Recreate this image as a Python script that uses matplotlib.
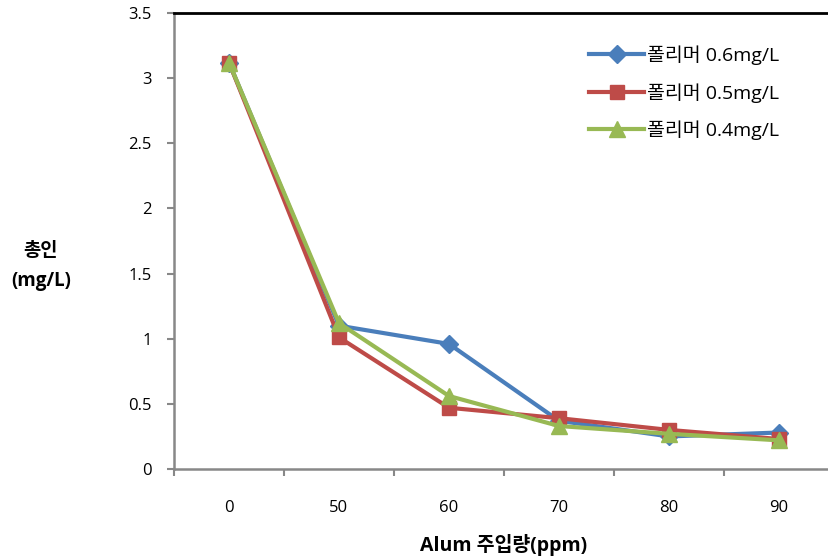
import numpy as np
import matplotlib
matplotlib.use("Agg")
import matplotlib.pyplot as plt

plt.rcParams['font.family'] = ['Open Sans', 'Noto Sans CJK KR', 'DejaVu Sans']

doses = ['0', '50', '60', '70', '80', '90']
p06 = [3.12, 1.10, 0.96, 0.37, 0.25, 0.28]
p05 = [3.12, 1.01, 0.47, 0.39, 0.30, 0.23]
p04 = [3.12, 1.12, 0.56, 0.33, 0.27, 0.22]
labels = ['폴리머 0.6mg/L', '폴리머 0.5mg/L', '폴리머 0.4mg/L']

fig = plt.figure(figsize=(8.29, 5.58), dpi=100)
# 오른쪽 끝은 원본처럼 잘려 있음
ax = fig.add_axes([174/829, 1-469/558, (834-174)/829, (469-13)/558])

x = np.arange(len(doses))
ax.plot(x, p06, color='#4A7EBB', lw=3, marker='D', ms=9, label=labels[0])
ax.plot(x, p05, color='#BE4B48', lw=3, marker='s', ms=10, label=labels[1])
ax.plot(x, p04, color='#98B954', lw=3, marker='^', ms=11, label=labels[2])

ax.set_xlim(-0.5, 5.5)
ax.set_ylim(0, 3.5)
ax.set_yticks([0, 0.5, 1, 1.5, 2, 2.5, 3, 3.5])
ax.set_yticklabels(['0', '0.5', '1', '1.5', '2', '2.5', '3', '3.5'])
ax.set_xticks(x)
ax.set_xticklabels(doses)
ax.set_xticks(np.arange(-0.5, 6, 1), minor=True)
ax.tick_params(axis='x', which='major', length=0, pad=22, labelsize=12)
ax.tick_params(axis='x', which='minor', length=5, color='#888888', width=1.5, direction='out')
ax.tick_params(axis='y', length=5, color='#888888', width=1.5, pad=11, labelsize=12)

for s in ['left', 'bottom']:
    ax.spines[s].set_color('#888888')
    ax.spines[s].set_linewidth(1.8)
ax.spines['top'].set_color('black')
ax.spines['top'].set_linewidth(2)
ax.spines['right'].set_visible(False)

fig.text(41/829, 1-266/558, '총인\n(mg/L)', ha='center', va='center',
         fontsize=13.5, fontweight='bold', linespacing=1.7)
fig.text(504/829, 1-545/558, 'Alum 주입량(ppm)', ha='center', va='center',
         fontsize=14, fontweight='bold')

leg = ax.legend(loc='upper left', bbox_to_anchor=((572-174)/660, 1-(28-13)/456),
                frameon=False, fontsize=14, handlelength=2.8, handletextpad=0.15,
                labelspacing=0.92)

fig.savefig('out.png', dpi=100)
